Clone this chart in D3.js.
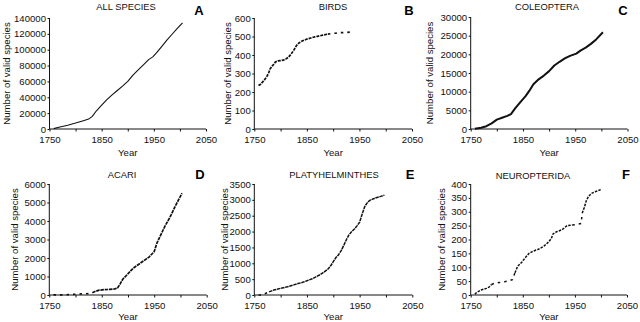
<!DOCTYPE html>
<html><head><meta charset="utf-8">
<script src="https://cdn.jsdelivr.net/npm/d3@7"></script>
<style>
body{margin:0;background:#fff;}
svg{display:block;font-family:"Liberation Sans",Arial,Helvetica,sans-serif;}
</style></head><body>
<svg id="chart" width="640" height="322"></svg>
<script>
// Cumulative number of valid species by year of description: [year, count]
const allSpecies = [[1758,500],[1770,2500],[1785,4800],[1800,7500],[1815,10500],[1825,12500],[1832,16000],[1840,23000],[1850,30000],[1860,37000],[1870,43000],[1880,48500],[1890,54000],[1900,60000],[1910,68000],[1920,74500],[1930,81000],[1940,87500],[1948,91000],[1955,96000],[1965,104000],[1975,112000],[1985,119500],[1995,127000],[2005,134000]];
const birds = [[1758,235],[1762,242],[1766,255],[1770,268],[1774,285],[1777,300],[1780,325],[1784,340],[1787,350],[1790,362],[1795,368],[1800,370],[1805,372],[1810,378],[1815,388],[1820,405],[1825,425],[1830,450],[1835,465],[1840,474],[1845,480],[1850,486],[1855,490],[1860,494],[1865,498],[1870,501],[1875,504],[1880,507],[1885,510],[1890,513],[1895,515],[1900,517],[1905,518],[1912,520],[1918,521],[1925,522],[1935,525]];
const coleoptera = [[1758,50],[1770,350],[1780,750],[1790,1500],[1800,2500],[1810,3000],[1820,3500],[1827,4000],[1835,5500],[1845,7200],[1855,8800],[1862,10200],[1870,12000],[1880,13300],[1890,14300],[1900,15500],[1910,17000],[1920,18000],[1930,18900],[1940,19600],[1952,20200],[1960,21000],[1970,21800],[1980,22800],[1990,24000],[2003,25900]];
const acari = [[1758,5],[1770,10],[1785,15],[1800,40],[1810,60],[1825,70],[1832,120],[1838,200],[1845,260],[1855,290],[1865,300],[1875,330],[1880,380],[1885,600],[1890,850],[1895,1000],[1900,1150],[1905,1300],[1910,1450],[1920,1650],[1930,1850],[1940,2050],[1950,2350],[1955,2800],[1960,3100],[1970,3700],[1980,4200],[1990,4800],[2003,5500]];
const platyhelminthes = [[1758,0],[1765,5],[1770,40],[1778,100],[1787,155],[1800,210],[1813,260],[1825,320],[1833,360],[1842,400],[1850,450],[1860,510],[1867,570],[1875,640],[1883,730],[1890,820],[1895,920],[1900,1050],[1905,1180],[1910,1270],[1915,1400],[1920,1570],[1925,1750],[1930,1900],[1935,2000],[1940,2080],[1945,2180],[1950,2300],[1955,2560],[1960,2800],[1965,2920],[1970,2990],[1980,3060],[1990,3110],[1997,3150]];
const neuropterida = [[1758,3],[1762,10],[1770,18],[1780,24],[1785,28],[1790,38],[1795,42],[1805,45],[1815,48],[1825,52],[1830,55],[1835,80],[1840,103],[1848,118],[1855,135],[1862,150],[1870,158],[1880,165],[1890,175],[1900,192],[1905,205],[1908,220],[1915,228],[1925,235],[1935,250],[1945,252],[1955,255],[1962,258],[1964,295],[1968,315],[1972,340],[1976,355],[1982,366],[1990,373],[2000,380]];

const panelLetters = ["A","B","C","D","E","F"];
const panelTitles = ["ALL SPECIES","BIRDS","COLEOPTERA","ACARI","PLATYHELMINTHES","NEUROPTERIDA"];
const panelSeries = [allSpecies, birds, coleoptera, acari, platyhelminthes, neuropterida];
const yMaxima = [140000, 600, 30000, 6000, 3500, 400];
const ySteps = [20000, 100, 5000, 1000, 500, 50];
const yearTicks = [1750, 1800, 1850, 1900, 1950, 2000, 2050];
const yearLabels = [1750, 1850, 1950, 2050];
const yAxisTitle = "Number of valid species";
const xAxisTitle = "Year";

// Frame geometry and line styling for each panel
const frames = [
  {x0:49.5, x1:206,   top:18,  bottom:129, labelX:7,   titleX:126, titleY:9.5,  letterX:199, letterY:15,  yearDy:26.5, style:"solid", width:1.1, dash:"3.5,0.8"},
  {x0:254.3,x1:412,   top:18,  bottom:129, labelX:228, titleX:333, titleY:9.5,  letterX:409, letterY:15,  yearDy:26.5, style:"dash",  width:1.7, dash:"3,1", sparse:[[1888,1940]]},
  {x0:470.7,x1:627.5, top:17,  bottom:129, labelX:430, titleX:547, titleY:9.5,  letterX:623, letterY:15,  yearDy:26.5, style:"solid", width:2, dash:"3.5,0.8"},
  {x0:49.3, x1:206.7, top:184, bottom:295, labelX:15,  titleX:122, titleY:177.7,letterX:200, letterY:178.5,yearDy:25, style:"dash", width:1.7, dash:"3.5,0.8", sparse:[[1750,1832]]},
  {x0:254.3,x1:412.3, top:184, bottom:295, labelX:225, titleX:334, titleY:178.3,letterX:410, letterY:178.7,yearDy:25, style:"dash", width:1.5, dash:"3.5,0.7", sparse:[[1750,1778]]},
  {x0:470.7,x1:627,   top:184, bottom:295, labelX:442, titleX:533, titleY:179,  letterX:626, letterY:178.7,yearDy:25, style:"dash", width:1.5, dash:"2.5,1.2", sparse:[[1788,1834],[1941,1963]]}
];

const svg = d3.select("#chart");
const ink = "#111";

panelSeries.forEach((data, i) => {
  const f = frames[i];
  const x = d3.scaleLinear().domain([1750, 2050]).range([f.x0, f.x1]);
  const y = d3.scaleLinear().domain([0, yMaxima[i]]).range([f.bottom, f.top]);
  const g = svg.append("g");

  // x axis
  const xAxis = d3.axisBottom(x).tickValues(yearTicks).tickSize(2.5).tickPadding(4.5)
    .tickFormat(d => yearLabels.includes(d) ? String(d) : "");
  const gx = g.append("g").attr("transform", `translate(0,${f.bottom})`).call(xAxis);
  gx.select(".domain").attr("d", `M${f.x0},0H${f.x1}`);

  // y axis
  const yTicks = d3.range(0, yMaxima[i] + ySteps[i] / 2, ySteps[i]);
  const yAxis = d3.axisLeft(y).tickValues(yTicks).tickSize(2).tickPadding(1.5).tickFormat(d3.format("d"));
  const gy = g.append("g").attr("transform", `translate(${f.x0},0)`).call(yAxis);
  gy.select(".domain").attr("d", `M0,${f.bottom}V${f.top}`);

  [gx, gy].forEach(a => {
    a.selectAll(".domain").attr("stroke", ink).attr("stroke-width", 1);
    a.selectAll(".tick line").attr("stroke", ink);
    a.selectAll("text").attr("font-size", 9.6).attr("fill", ink).attr("font-family", null);
  });

  // axis titles
  g.append("text").attr("x", (f.x0 + f.x1) / 2).attr("y", f.bottom + f.yearDy)
    .attr("text-anchor", "middle").attr("font-size", 9.6).attr("fill", ink).text(xAxisTitle);
  g.append("text").attr("transform", `translate(${f.labelX},${(f.top + f.bottom) / 2}) rotate(-90)`)
    .attr("dy", "0.35em").attr("text-anchor", "middle").attr("font-size", 9.6).attr("fill", ink).text(yAxisTitle);

  // panel title and letter
  g.append("text").attr("x", f.titleX).attr("y", f.titleY).attr("text-anchor", "middle")
    .attr("font-size", 9.4).attr("fill", ink).text(panelTitles[i]);
  g.append("text").attr("x", f.letterX).attr("y", f.letterY).attr("text-anchor", "middle")
    .attr("font-size", 13).attr("font-weight", "bold").attr("fill", "#000").text(panelLetters[i]);

  // series line, split into dense and sparse stretches
  const line = d3.line().x(d => x(d[0])).y(d => y(d[1]));
  if (f.style === "solid") {
    g.append("path").datum(data).attr("d", line).attr("fill", "none")
      .attr("stroke", ink).attr("stroke-width", f.width).attr("stroke-linejoin", "round");
  } else {
    const ranges = f.sparse || [];
    const isSparse = yr => ranges.some(r => yr >= r[0] && yr <= r[1]);
    const segs = [];
    for (let k = 0; k < data.length - 1; k++) {
      const mid = (data[k][0] + data[k + 1][0]) / 2;
      const kind = isSparse(mid) ? "sparse" : "dense";
      const last = segs[segs.length - 1];
      if (last && last.kind === kind) last.pts.push(data[k + 1]);
      else segs.push({kind, pts: [data[k], data[k + 1]]});
    }
    segs.forEach(s => {
      g.append("path").datum(s.pts).attr("d", line).attr("fill", "none")
        .attr("stroke", ink).attr("stroke-width", f.width)
        .attr("stroke-dasharray", s.kind === "sparse" ? "2.5,4" : f.dash);
    });
  }
});
</script>
</body></html>
